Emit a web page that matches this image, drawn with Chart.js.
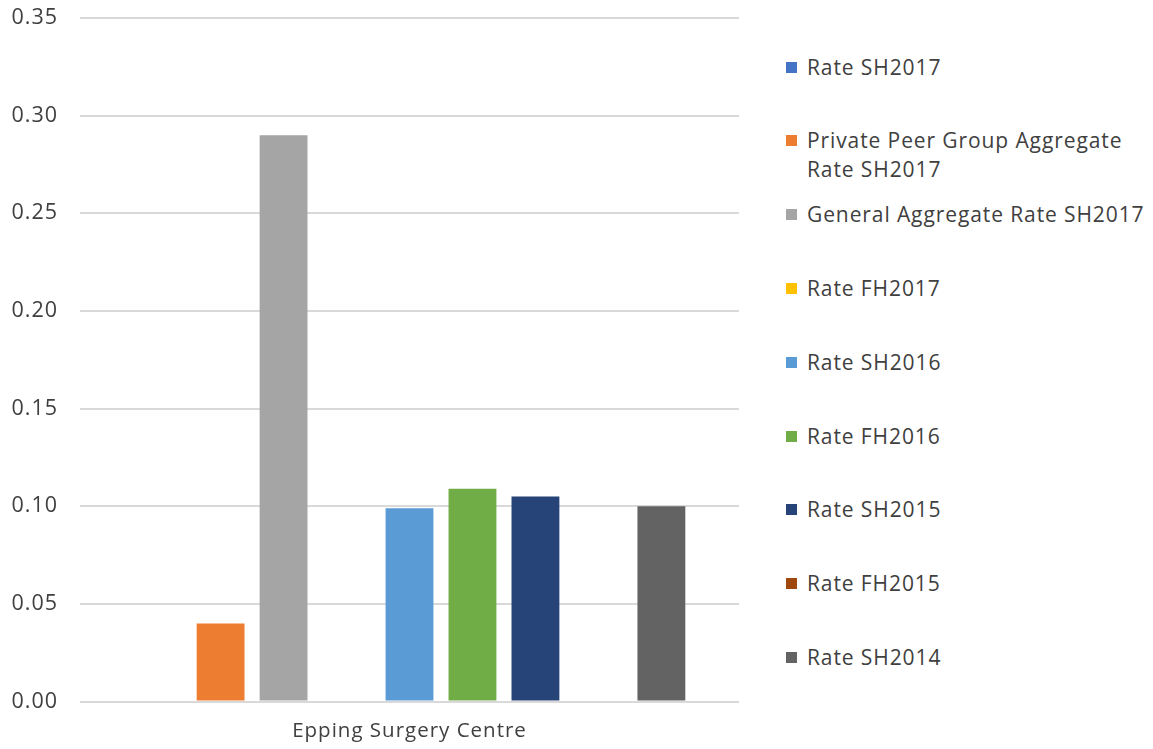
<!DOCTYPE html>
<html>
<head>
<meta charset="utf-8">
<script src="https://cdn.jsdelivr.net/npm/chart.js@4/dist/chart.umd.min.js"></script>
<style>
  html, body { margin: 0; padding: 0; background: #fff; overflow: hidden; }
  #wrap { position: relative; width: 1153px; height: 749px; overflow: hidden; }
  #box { position: absolute; left: 0; top: 0; width: 745px; height: 749px; }
  #legend { position: absolute; left: 0; top: 0; }
  .item { position: absolute; left: 786px; width: 367px; font-family: "Open Sans", sans-serif;
          font-size: 21px; letter-spacing: 0.9px; line-height: 29px; color: #404040; }
  .item .sw { position: absolute; left: 0; top: 9px; width: 11px; height: 11px; }
  .item .tx { position: absolute; left: 21px; width: 350px; }
</style>
</head>
<body>
<div id="wrap">
  <div id="box"><canvas id="chart"></canvas></div>
  <div id="legend"></div>
</div>
<script>
// one category, nine rate series
var categories = ['Epping Surgery Centre'];
var seriesNames = [
    'Rate SH2017',
    'Private Peer Group Aggregate Rate SH2017',
    'General Aggregate Rate SH2017',
    'Rate FH2017',
    'Rate SH2016',
    'Rate FH2016',
    'Rate SH2015',
    'Rate FH2015',
    'Rate SH2014'
];
var seriesValues = [null, 0.04, 0.29, null, 0.099, 0.109, 0.105, null, 0.10];
var seriesColors = ['#4472C4', '#ED7D31', '#A5A5A5', '#FFC000', '#5B9BD5', '#70AD47', '#264478', '#9E480E', '#636363'];
var yTicks = [0, 0.05, 0.10, 0.15, 0.20, 0.25, 0.30, 0.35];

var fontFam = '"Open Sans", sans-serif';
var textColor = '#404040';

let datasets = seriesNames.map((name, i) => ({
    label: name,
    data: [seriesValues[i]],
    backgroundColor: seriesColors[i],
    borderWidth: 0,
    categoryPercentage: 0.86,
    barPercentage: 0.76
}));

// the reference text is a bit wider than Open Sans, so space the letters out
// (canvas resize resets the context, so set it again before layout and draw)
let spacingPlugin = {
    id: 'spacing',
    beforeUpdate: function (chart) { chart.ctx.letterSpacing = '1px'; },
    beforeDraw: function (chart) { chart.ctx.letterSpacing = '1px'; }
};

let ctx = document.getElementById('chart').getContext('2d');

let chart = new Chart(ctx, {
    type: 'bar',
    data: { labels: categories, datasets: datasets },
    plugins: [spacingPlugin],
    options: {
        responsive: true,
        maintainAspectRatio: false,
        animation: false,
        layout: { padding: { top: 18, right: 6, left: 0, bottom: 0 } },
        plugins: {
            legend: { display: false },
            tooltip: { enabled: false }
        },
        scales: {
            x: {
                grid: { display: false, drawTicks: false },
                border: { display: false },
                ticks: { color: textColor, font: { family: fontFam, size: 20.5 }, padding: 17 },
                afterFit: function (scale) {
                    scale.height = 47.5;
                    scale.paddingLeft = 0;
                    scale.paddingRight = 0;
                }
            },
            y: {
                min: 0,
                max: 0.35,
                afterBuildTicks: function (scale) {
                    scale.ticks = yTicks.map(v => ({ value: v }));
                },
                grid: { color: '#d9d9d9', lineWidth: 2, drawTicks: false },
                border: { display: false },
                ticks: {
                    color: textColor,
                    font: { family: fontFam, size: 21.5 },
                    padding: 22,
                    callback: function (value) { return Number(value).toFixed(2); }
                },
                afterFit: function (scale) {
                    scale.width = 80;
                    scale.paddingTop = 0;
                    scale.paddingBottom = 0;
                }
            }
        }
    }
});

// legend on the right, drawn as html
let legend = document.getElementById('legend');
seriesNames.forEach((name, i) => {
    let item = document.createElement('div');
    item.className = 'item';
    item.style.top = (67 + i * 73.8 - 14.5) + 'px';
    item.innerHTML = '<span class="sw" style="background:' + seriesColors[i] + '"></span><span class="tx">' + name + '</span>';
    legend.appendChild(item);
});
</script>
</body>
</html>
